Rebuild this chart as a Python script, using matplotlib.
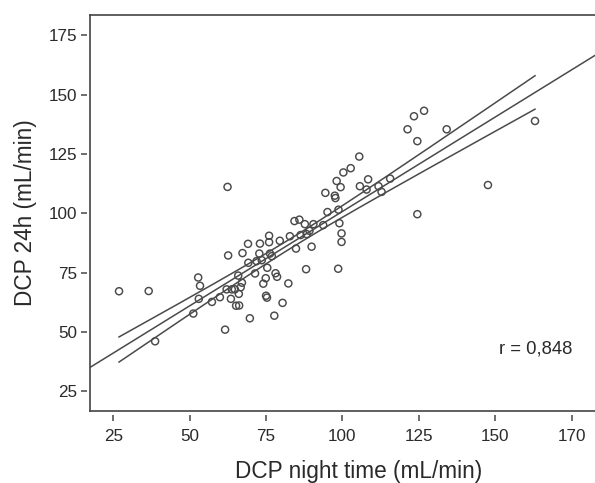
import numpy as np
import matplotlib
matplotlib.use("Agg")
import matplotlib.pyplot as plt
from matplotlib import transforms

plt.rcParams['font.family'] = ['Liberation Sans', 'DejaVu Sans']

# DCP night time (mL/min) vs DCP 24h (mL/min)
night = [26.9, 36.6, 38.7, 52.8, 53.4, 53.0, 51.2, 57.3, 59.9, 61.6,
         62.4, 62.6, 62.1, 63.5, 64.8, 65.2, 66.2, 65.9, 66.1, 66.7,
         67.1, 67.3, 69.1, 69.2, 69.7, 63.8, 71.4, 71.9, 72.8, 73.0,
         73.6, 74.1, 74.9, 75.0, 75.3, 75.4, 76.0, 76.0, 76.3, 77.7,
         78.1, 78.6, 79.5, 80.4, 82.3, 82.8, 84.3, 84.8, 85.9, 86.3,
         87.7, 88.3, 88.1, 89.9, 90.5, 93.7, 95.1, 98.7, 99.0, 99.7,
         99.7, 98.6, 94.4, 97.5, 97.7, 98.1, 99.4, 100.3, 102.7, 105.5,
         105.7, 107.9, 108.4, 111.8, 112.8, 115.6, 121.3, 123.4, 126.7, 124.5,
         134.1, 124.5, 147.6, 163.0, 89.2, 76.9]
day24 = [67.1, 67.2, 46.0, 72.9, 69.4, 63.9, 57.7, 62.6, 64.6, 50.9,
         111.1, 82.2, 67.9, 63.9, 67.9, 61.0, 61.1, 73.7, 66.0, 68.8,
         70.7, 83.2, 87.1, 79.1, 55.7, 67.9, 74.6, 79.8, 83.0, 87.2,
         80.2, 70.3, 72.6, 65.2, 64.4, 77.0, 90.5, 87.8, 83.0, 56.8,
         74.7, 73.2, 88.4, 62.2, 70.4, 90.3, 96.7, 85.1, 97.3, 90.8,
         95.4, 91.2, 76.4, 85.9, 95.4, 95.0, 100.5, 101.5, 95.8, 91.5,
         87.9, 76.6, 108.6, 107.4, 106.4, 113.6, 111.0, 117.2, 119.0, 123.9,
         111.4, 110.0, 114.3, 111.4, 109.0, 114.6, 135.4, 140.9, 143.2, 130.4,
         135.4, 99.6, 111.9, 138.9, 92.6, 81.9]

xticks = [25, 50, 75, 100, 125, 150, 175]
xtick_labels = ['25', '50', '75', '100', '125', '150', '170']
yticks = [25, 50, 75, 100, 125, 150, 175]
r_label = 'r = 0,848'

x = np.array(night)
y = np.array(day24)

# linear fit with confidence band of the mean
n = len(x)
slope, intercept = np.polyfit(x, y, 1)
resid = y - (intercept + slope * x)
s = np.sqrt(np.sum(resid ** 2) / (n - 2))
sxx = np.sum((x - x.mean()) ** 2)
t_band = 1.55

grey = '#4a4a4a'
text_col = '#2a2a2a'

fig = plt.figure(figsize=(5.95, 4.83), dpi=100)
ax = fig.add_axes([90 / 595, 72 / 483, 537 / 595, 396 / 483])
ax.set_xlim(17.4, 193.1)
ax.set_ylim(16.6, 183.6)

xfit = np.linspace(ax.get_xlim()[0], ax.get_xlim()[1], 200)
ax.plot(xfit, intercept + slope * xfit, color=grey, lw=1.1)
xb = np.linspace(x.min(), x.max(), 200)
half = t_band * s * np.sqrt(1 / n + (xb - x.mean()) ** 2 / sxx)
ax.plot(xb, intercept + slope * xb + half, color=grey, lw=1.1)
ax.plot(xb, intercept + slope * xb - half, color=grey, lw=1.1)

ax.scatter(x, y, s=26, facecolors='none', edgecolors=grey, linewidths=1.05, zorder=3)

ax.text(151.2, 42.9, r_label, fontsize=13.3, color=text_col, ha='left', va='center')

# tick labels, marks drawn separately with a small gap from the spines
ax.set_xticks(xticks)
ax.set_xticklabels(xtick_labels)
ax.set_yticks(yticks)
ax.tick_params(length=0, labelsize=12.3, labelcolor=text_col)
ax.tick_params(axis='y', pad=9)
ax.tick_params(axis='x', pad=13)

ytr = transforms.offset_copy(ax.get_yaxis_transform(), fig=fig, x=-6.5, y=0, units='dots')
ax.plot([0] * len(yticks), yticks, ls='none', marker='_', ms=5, mew=1.2,
        color='#555555', transform=ytr, clip_on=False)
xtr = transforms.offset_copy(ax.get_xaxis_transform(), fig=fig, x=0, y=-6.5, units='dots')
ax.plot(xticks, [0] * len(xticks), ls='none', marker='|', ms=5, mew=1.2,
        color='#555555', transform=xtr, clip_on=False)

for side in ['left', 'bottom', 'top']:
    ax.spines[side].set_color('#444444')
    ax.spines[side].set_linewidth(1.2)
ax.spines['right'].set_visible(False)

ax.set_xlabel('DCP night time (mL/min)', fontsize=16.3, color=text_col)
ax.set_ylabel('DCP 24h (mL/min)', fontsize=16.3, color=text_col)
ax.xaxis.set_label_coords(0.5, -0.124)
ax.yaxis.set_label_coords(-53 / 537, 0.5)

fig.savefig('out.png', dpi=100)
